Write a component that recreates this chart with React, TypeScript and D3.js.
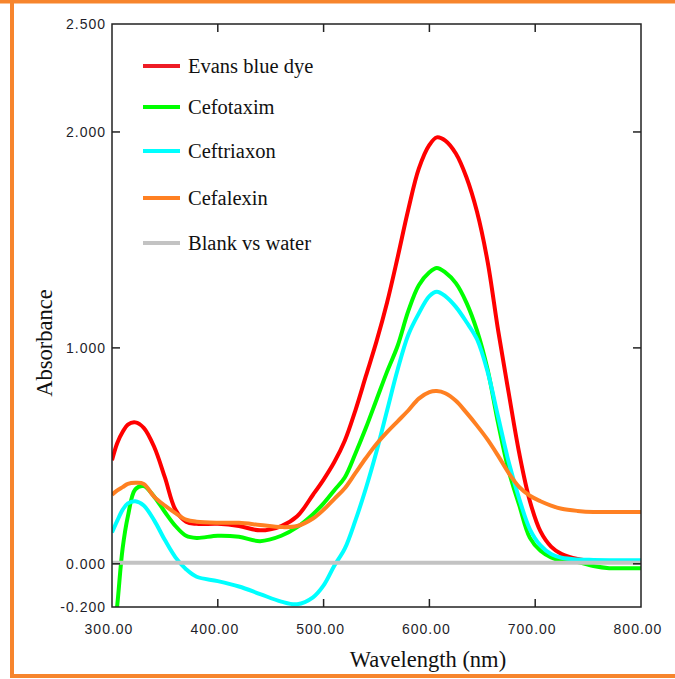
import React from "react";
import * as d3 from "d3";

// Wavelength grid (nm) shared by the four sample spectra
const wavelengths = [
  300, 305, 310, 315, 322, 330, 340, 350, 360, 370, 380, 400, 420, 440, 460, 475,
  490, 500, 510, 520, 530, 540, 550, 560, 570, 580, 590, 600, 607, 615, 625, 635,
  645, 655, 665, 675, 685, 695, 705, 715, 725, 740, 755, 770, 785, 800,
];

const evansBlue = [
  0.48, 0.56, 0.61, 0.645, 0.655, 0.63, 0.54, 0.4, 0.25, 0.195, 0.185, 0.185, 0.175, 0.155, 0.175, 0.22,
  0.32, 0.39, 0.47, 0.57, 0.71, 0.87, 1.03, 1.21, 1.42, 1.64, 1.83, 1.94, 1.975, 1.96, 1.9, 1.79,
  1.63, 1.4, 1.08, 0.79, 0.51, 0.29, 0.15, 0.08, 0.045, 0.022, 0.014, 0.012, null, null,
];

const cefotaxim = [
  -0.42, -0.19, 0.07, 0.22, 0.345, 0.36, 0.31, 0.24, 0.175, 0.13, 0.12, 0.13, 0.125, 0.105, 0.13, 0.17,
  0.23, 0.28, 0.34, 0.4, 0.51, 0.63, 0.76, 0.89, 1.01, 1.17, 1.29, 1.35, 1.37, 1.35, 1.3, 1.21,
  1.08, 0.9, 0.65, 0.43, 0.27, 0.12, 0.06, 0.03, 0.015, 0.008, -0.01, -0.02, -0.02, -0.02,
];

const ceftriaxon = [
  0.145, 0.2, 0.25, 0.28, 0.29, 0.27, 0.2, 0.11, 0.03, -0.025, -0.06, -0.08, -0.105, -0.14, -0.175, -0.187,
  -0.155, -0.1, -0.01, 0.07, 0.2, 0.35, 0.52, 0.71, 0.9, 1.06, 1.16, 1.24, 1.26, 1.24, 1.19, 1.12,
  1.04, 0.89, 0.68, 0.47, 0.3, 0.16, 0.085, 0.045, 0.028, 0.02, 0.018, 0.017, 0.017, 0.017,
];

const cefalexin = [
  0.32, 0.34, 0.355, 0.37, 0.375, 0.37, 0.31, 0.27, 0.235, 0.205, 0.195, 0.19, 0.19, 0.18, 0.17, 0.175,
  0.21, 0.25, 0.3, 0.35, 0.42, 0.49, 0.555, 0.61, 0.66, 0.71, 0.765, 0.795, 0.8, 0.79, 0.755, 0.7,
  0.64, 0.575, 0.5, 0.42, 0.355, 0.315, 0.29, 0.27, 0.255, 0.245, 0.24, 0.24, 0.24, 0.24,
];

// Blank baseline
const blankWavelengths = [300, 800];
const blankValues = [0.005, 0.005];

const seriesNames = ["Evans blue dye", "Cefotaxim", "Ceftriaxon", "Cefalexin", "Blank vs water"];
const seriesColors = ["#ff0000", "#00ff00", "#00ffff", "#ff8022", "#c3c3c3"];

const yTickValues = [2.5, 2.0, 1.0, 0.0, -0.2];
const yTickLabels = ["2.500", "2.000", "1.000", "0.000", "-0.200"];
const xTickValues = [300, 400, 500, 600, 700, 800];
const xTickLabels = ["300.00", "400.00", "500.00", "600.00", "700.00", "800.00"];

const W = 675;
const H = 679;
const plot = { left: 112, right: 641, top: 24, bottom: 607 };

export default function App() {
  const x = d3.scaleLinear().domain([300, 800]).range([plot.left, plot.right]);
  const y = d3.scaleLinear().domain([-0.2, 2.5]).range([plot.bottom, plot.top]);

  const line = d3
    .line<[number, number | null]>()
    .defined((d) => d[1] !== null)
    .x((d) => x(d[0]))
    .y((d) => y(d[1] as number))
    .curve(d3.curveCatmullRom.alpha(0.5));

  const zip = (xs: number[], ys: (number | null)[]) =>
    xs.map((w, i) => [w, ys[i]] as [number, number | null]);

  const spectra = [
    { data: zip(wavelengths, evansBlue), color: seriesColors[0] },
    { data: zip(wavelengths, cefotaxim), color: seriesColors[1] },
    { data: zip(wavelengths, ceftriaxon), color: seriesColors[2] },
    { data: zip(wavelengths, cefalexin), color: seriesColors[3] },
  ];
  const blank = zip(blankWavelengths, blankValues);

  const legendRows = [66, 107, 151, 198, 243];
  const tickLen = 8;
  const innerYTicks = [2.0, 1.0, 0.0];
  const innerXTicks = [400, 500, 600, 700];
  const axisColor = "#222";
  const tickFont = "'Liberation Sans', Arial, sans-serif";
  const serif = "'Liberation Serif', 'Times New Roman', serif";

  return (
    <svg
      width={W}
      height={H}
      style={{ position: "absolute", left: 0, top: 0, background: "#fff" }}
    >
      <defs>
        <clipPath id="plot-clip">
          <rect
            x={plot.left}
            y={plot.top}
            width={plot.right - plot.left}
            height={plot.bottom - plot.top}
          />
        </clipPath>
      </defs>

      {/* outer frame */}
      <rect x={0} y={0} width={W} height={H} fill="#fff" />
      <line x1={0} x2={W} y1={1.5} y2={1.5} stroke="#f7852d" strokeWidth={4} />
      <line x1={12} x2={12} y1={0} y2={677} stroke="#f7852d" strokeWidth={4} />
      <line x1={10} x2={W} y1={676} y2={676} stroke="#f7852d" strokeWidth={4} />

      {/* spectra */}
      <g clipPath="url(#plot-clip)">
        {spectra.map((s, i) => (
          <path
            key={i}
            d={line(s.data) || ""}
            fill="none"
            stroke={s.color}
            strokeWidth={4}
            strokeLinejoin="round"
          />
        ))}
        <path d={line(blank) || ""} fill="none" stroke={seriesColors[4]} strokeWidth={4} />
      </g>

      {/* plot box */}
      <rect
        x={plot.left}
        y={plot.top}
        width={plot.right - plot.left}
        height={plot.bottom - plot.top}
        fill="none"
        stroke={axisColor}
        strokeWidth={1.5}
      />

      {/* inward ticks */}
      {innerYTicks.map((v) => (
        <g key={"yt" + v}>
          <line x1={plot.left} x2={plot.left + tickLen} y1={y(v)} y2={y(v)} stroke={axisColor} strokeWidth={1.5} />
          <line x1={plot.right} x2={plot.right - tickLen} y1={y(v)} y2={y(v)} stroke={axisColor} strokeWidth={1.5} />
        </g>
      ))}
      {innerXTicks.map((v) => (
        <g key={"xt" + v}>
          <line x1={x(v)} x2={x(v)} y1={plot.bottom} y2={plot.bottom - tickLen} stroke={axisColor} strokeWidth={1.5} />
          <line x1={x(v)} x2={x(v)} y1={plot.top} y2={plot.top + tickLen} stroke={axisColor} strokeWidth={1.5} />
        </g>
      ))}

      {/* tick labels */}
      {yTickValues.map((v, i) => (
        <text
          key={"yl" + v}
          x={106}
          y={y(v)}
          dy="0.36em"
          textAnchor="end"
          fontFamily={tickFont}
          fontSize={14}
          letterSpacing={1}
          fill="#1e1e2a"
        >
          {yTickLabels[i]}
        </text>
      ))}
      {xTickValues.map((v, i) => (
        <text
          key={"xl" + v}
          x={x(v) - 3}
          y={634}
          textAnchor="middle"
          fontFamily={tickFont}
          fontSize={14}
          letterSpacing={1}
          fill="#1e1e2a"
        >
          {xTickLabels[i]}
        </text>
      ))}

      {/* axis titles */}
      <text
        transform={`translate(52, 343) rotate(-90)`}
        textAnchor="middle"
        fontFamily={serif}
        fontSize={22.5}
        fill="#111"
      >
        Absorbance
      </text>
      <text x={428} y={667} textAnchor="middle" fontFamily={serif} fontSize={22.5} fill="#111">
        Wavelength (nm)
      </text>

      {/* legend */}
      {seriesNames.map((name, i) => (
        <g key={name}>
          <line
            x1={143}
            x2={180}
            y1={legendRows[i]}
            y2={legendRows[i]}
            stroke={i === 0 ? "#ee1c25" : seriesColors[i]}
            strokeWidth={4}
          />
          <text
            x={188}
            y={legendRows[i] + 7}
            fontFamily={serif}
            fontSize={20.5}
            fill="#111"
          >
            {name}
          </text>
        </g>
      ))}
    </svg>
  );
}
